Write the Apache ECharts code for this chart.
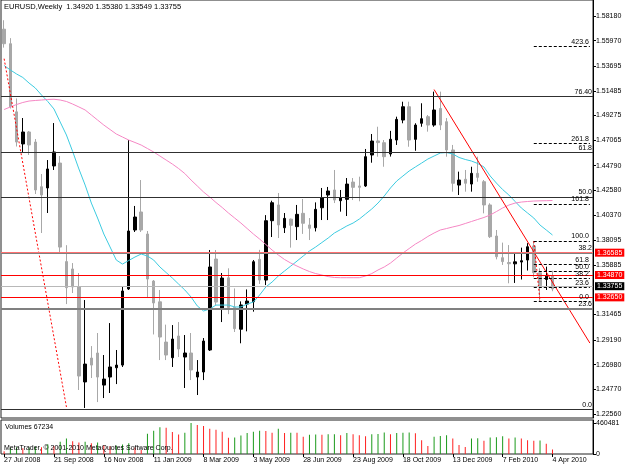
<!DOCTYPE html>
<html>
<head>
<meta charset="utf-8">
<script src="https://cdn.jsdelivr.net/npm/echarts@6/dist/echarts.min.js"></script>
<style>
  html, body { margin: 0; padding: 0; background: #fff; }
  #chart { width: 625px; height: 469px; }
</style>
</head>
<body>
<div id="chart"></div>
<script>
// weekly bars, 27 Jul 2008 .. 4 Apr 2010, plus empty space to the right
const barCount = 95;
const dateLabels = ["27 Jul 2008", "21 Sep 2008", "16 Nov 2008", "11 Jan 2009", "8 Mar 2009", "3 May 2009",
  "28 Jun 2009", "23 Aug 2009", "18 Oct 2009", "13 Dec 2009", "7 Feb 2010", "4 Apr 2010"];

const opens = [1.5700, 1.5570, 1.4960, 1.4673, 1.4780, 1.4690, 1.4290, 1.4279, 1.4476, 1.4502,
  1.3620, 1.3554, 1.3393, 1.2543, 1.2757, 1.2802, 1.2515, 1.2587, 1.2670, 1.2694,
  1.3375, 1.3903, 1.4064, 1.3867, 1.3446, 1.3260, 1.2900, 1.2760, 1.2954, 1.2766,
  1.2802, 1.2587, 1.2632, 1.2829, 1.3643, 1.3205, 1.3475, 1.3210, 1.3015, 1.3240,
  1.3261, 1.3640, 1.3455, 1.3986, 1.4127, 1.3923, 1.4000, 1.3933, 1.4052, 1.3948,
  1.3923, 1.4102, 1.4216, 1.4261, 1.4165, 1.4177, 1.4332, 1.4297, 1.4297, 1.4574,
  1.4700, 1.4684, 1.4583, 1.4708, 1.4887, 1.5006, 1.4714, 1.4858, 1.4917, 1.4842,
  1.4990, 1.4872, 1.4619, 1.4305, 1.4357, 1.4314, 1.4410, 1.4335, 1.4127, 1.3849,
  1.3655, 1.3612, 1.3600, 1.3616, 1.3634, 1.3760, 1.3520, 1.3460, 1.34920];
const highs = [1.5780, 1.5620, 1.5080, 1.4905, 1.4789, 1.4717, 1.4404, 1.4529, 1.4860, 1.4565,
  1.3767, 1.3607, 1.3518, 1.3276, 1.2864, 1.2981, 1.2784, 1.3070, 1.2829, 1.3393,
  1.4708, 1.4118, 1.4350, 1.3894, 1.3455, 1.3366, 1.3056, 1.3052, 1.3079, 1.2963,
  1.2981, 1.2739, 1.2936, 1.3724, 1.3724, 1.3518, 1.3560, 1.3380, 1.3264, 1.3371,
  1.3634, 1.3725, 1.4036, 1.4165, 1.4234, 1.4055, 1.4005, 1.4127, 1.4180, 1.4010,
  1.4150, 1.4279, 1.4288, 1.4440, 1.4261, 1.4368, 1.4368, 1.4380, 1.4628, 1.4762,
  1.4827, 1.4708, 1.4790, 1.4917, 1.5051, 1.5051, 1.4858, 1.5037, 1.4932, 1.5141,
  1.5141, 1.4905, 1.4664, 1.4425, 1.4440, 1.4469, 1.4559, 1.4350, 1.4142, 1.3903,
  1.3790, 1.3768, 1.3697, 1.3745, 1.3785, 1.3805, 1.3560, 1.3575, 1.35380];
const lows = [1.5535, 1.4990, 1.4650, 1.4592, 1.4574, 1.4225, 1.3876, 1.4055, 1.4440, 1.3688,
  1.3240, 1.3339, 1.2471, 1.2310, 1.2578, 1.2363, 1.2399, 1.2444, 1.2524, 1.2677,
  1.3366, 1.3885, 1.3885, 1.3294, 1.2968, 1.2739, 1.2739, 1.2677, 1.2766, 1.2489,
  1.2560, 1.2426, 1.2560, 1.2820, 1.3231, 1.3079, 1.3150, 1.2990, 1.2889, 1.2996,
  1.3172, 1.3420, 1.3410, 1.3840, 1.3831, 1.3876, 1.3745, 1.3813, 1.3868, 1.3813,
  1.3890, 1.3992, 1.3992, 1.4144, 1.4067, 1.4028, 1.4171, 1.4160, 1.4288, 1.4505,
  1.4559, 1.4469, 1.4560, 1.4664, 1.4858, 1.4648, 1.4612, 1.4827, 1.4783, 1.4827,
  1.4797, 1.4559, 1.4246, 1.4216, 1.4246, 1.4246, 1.4335, 1.4052, 1.3831, 1.3640,
  1.3590, 1.3426, 1.3429, 1.3460, 1.3540, 1.3480, 1.3267, 1.3366, 1.33549];
const closes = [1.5570, 1.5005, 1.4690, 1.4780, 1.4664, 1.4261, 1.4216, 1.4449, 1.4601, 1.3750,
  1.3387, 1.3393, 1.2596, 1.2703, 1.2694, 1.2587, 1.2569, 1.2677, 1.2694, 1.3357,
  1.3894, 1.4019, 1.3903, 1.3464, 1.3250, 1.2945, 1.2784, 1.2927, 1.2838, 1.2802,
  1.2650, 1.2632, 1.2909, 1.3572, 1.3258, 1.3473, 1.3210, 1.3020, 1.3232, 1.3267,
  1.3619, 1.3455, 1.3986, 1.4147, 1.3948, 1.4007, 1.3945, 1.4043, 1.3963, 1.3918,
  1.4088, 1.4189, 1.4252, 1.4171, 1.4192, 1.4314, 1.4285, 1.4285, 1.4559, 1.4699,
  1.4685, 1.4559, 1.4715, 1.4893, 1.5006, 1.4708, 1.4842, 1.4899, 1.4842, 1.4977,
  1.4842, 1.4619, 1.4321, 1.4350, 1.4321, 1.4410, 1.4374, 1.4127, 1.3843, 1.3664,
  1.3620, 1.3601, 1.3618, 1.3628, 1.3753, 1.3520, 1.3405, 1.3490, 1.33755];

const volumes = [39000, 90000, 100000, 85000, 95000, 110000, 102000, 144000, 120000, 183000,
  230000, 189000, 170000, 183000, 160000, 172000, 130000, 115000, 125000, 140000,
  160000, 95000, 60000, 302000, 345000, 399000, 389000, 327000, 288000, 317000,
  460481, 432000, 417000, 374000, 360000, 331000, 240000, 245000, 273000, 312000,
  331000, 345000, 341000, 317000, 374000, 312000, 317000, 315000, 255000, 285000,
  290000, 286000, 292000, 295000, 278000, 312000, 292000, 278000, 263000, 292000,
  296000, 321000, 292000, 312000, 317000, 321000, 307000, 206000, 119000, 255000,
  269000, 278000, 230000, 134000, 105000, 230000, 234000, 197000, 245000, 248000,
  263000, 230000, 245000, 230000, 206000, 197000, 200000, 154000, 67234];

// moving averages (aqua = fast, pink = slow)
const maFast = [1.5375, 1.5335, 1.5299, 1.5268, 1.5218, 1.5174, 1.5111, 1.5053, 1.4986, 1.4869,
  1.4753, 1.4605, 1.4449, 1.4305, 1.4144, 1.4010, 1.3867, 1.3751, 1.3634, 1.3598,
  1.3630, 1.3661, 1.3688, 1.3670, 1.3634, 1.3572, 1.3522, 1.3473, 1.3419, 1.3366,
  1.3303, 1.3223, 1.3178, 1.3196, 1.3231, 1.3231, 1.3231, 1.3214, 1.3214, 1.3240,
  1.3258, 1.3321, 1.3393, 1.3437, 1.3491, 1.3536, 1.3580, 1.3625, 1.3670, 1.3715,
  1.3751, 1.3791, 1.3831, 1.3876, 1.3907, 1.3939, 1.3965, 1.4001, 1.4046, 1.4091,
  1.4144, 1.4207, 1.4279, 1.4341, 1.4386, 1.4431, 1.4467, 1.4502, 1.4538, 1.4565,
  1.4592, 1.4596, 1.4583, 1.4552, 1.4534, 1.4520, 1.4498, 1.4467, 1.4386, 1.4323,
  1.4265, 1.4216, 1.4158, 1.4100, 1.4055, 1.4010, 1.3947, 1.3903, 1.3858];
const maSlow = [1.4981, 1.5004, 1.5026, 1.5044, 1.5057, 1.5062, 1.5066, 1.5071, 1.5073, 1.5066,
  1.5053, 1.5030, 1.5004, 1.4977, 1.4932, 1.4887, 1.4842, 1.4802, 1.4762, 1.4735,
  1.4708, 1.4686, 1.4663, 1.4632, 1.4601, 1.4565, 1.4529, 1.4493, 1.4453, 1.4408,
  1.4350, 1.4297, 1.4243, 1.4198, 1.4149, 1.4104, 1.4055, 1.4010, 1.3965, 1.3916,
  1.3867, 1.3822, 1.3773, 1.3724, 1.3679, 1.3639, 1.3607, 1.3580, 1.3554, 1.3531,
  1.3513, 1.3500, 1.3486, 1.3478, 1.3476, 1.3476, 1.3476, 1.3476, 1.3491, 1.3513,
  1.3545, 1.3572, 1.3607, 1.3652, 1.3697, 1.3737, 1.3777, 1.3809, 1.3845, 1.3876,
  1.3903, 1.3916, 1.3930, 1.3943, 1.3961, 1.3979, 1.3997, 1.4015, 1.4037, 1.4068,
  1.4100, 1.4126, 1.4144, 1.4153, 1.4158, 1.4162, 1.4164, 1.4165, 1.4167];

const priceTicks = [1.58180, 1.55970, 1.53695, 1.51485, 1.49275, 1.47065, 1.44790, 1.42580, 1.40370,
  1.38095, 1.35885, 1.31465, 1.29190, 1.26980, 1.24770, 1.22560];
const volumeTicks = [0, 460481];

const bigFibLevels = [1.2319, 1.3193, 1.3734, 1.4171, 1.4607, 1.5148];
const bigFibNames = ["0.0", "23.6", "38.2", "50.0", "61.8", "76.40"];
const bigFibWidths = [1, 2, 2, 1, 1, 1];
const smallFibLevels = [1.3265, 1.3392, 1.3471, 1.3535, 1.3598, 1.3804, 1.4137, 1.4676, 1.5548];
const smallFibNames = ["0.0", "23.6", "38.2", "50.0", "61.8", "100.0", "161.8", "261.8", "423.6"];
const redLevels = [1.36585, 1.34870, 1.32650];
const redColors = ["#ff7070", "#ff0000", "#ff0000"];
const bidPrice = 1.33755;

const bigFibTrend = [[0, 1.5436], [10, 1.2319]];
const smallFibTrend = [[85, 1.3804], [86, 1.3265]];
const downTrend = [[69, 1.5160], [94, 1.2891]];

const font = "Liberation Sans";
const categories = Array.from({ length: barCount }, (_, i) => i);

const chart = echarts.init(document.getElementById("chart"));

const markData = [];
bigFibLevels.forEach((v, i) => {
  markData.push({
    yAxis: v,
    lineStyle: { color: bigFibWidths[i] > 1 ? "#808080" : "#303030", width: bigFibWidths[i], type: "solid" },
    label: { show: true, position: "insideEndTop", formatter: bigFibNames[i], distance: 1 },
  });
});
smallFibLevels.forEach((v, i) => {
  markData.push([
    { coord: [85, v], lineStyle: { color: "#000", width: 1, type: [3, 2] },
      label: { show: true, position: "insideEndTop", formatter: smallFibNames[i], distance: 1 } },
    { coord: [94, v] },
  ]);
});
redLevels.forEach((v, i) => {
  markData.push({
    yAxis: v,
    lineStyle: { color: redColors[i], width: 1, type: "solid" },
    label: { show: true, position: "end", formatter: v.toFixed(5), color: "#fff",
      backgroundColor: "#ff0000", padding: [1, 2, 0, 2], distance: 2 },
  });
});
markData.push({
  yAxis: bidPrice,
  lineStyle: { color: "#b8b8b8", width: 1, type: "solid" },
  label: { show: true, position: "end", formatter: bidPrice.toFixed(5), color: "#fff",
    backgroundColor: "#000", padding: [1, 2, 0, 2], distance: 2 },
});

const option = {
  animation: false,
  textStyle: { fontFamily: font, fontSize: 7 },
  grid: [
    { left: 1, right: 32, top: 0, height: 418, show: true, borderColor: "#202020", borderWidth: 1 },
    { left: 1, right: 32, top: 420, height: 34, show: true, borderColor: "#202020", borderWidth: 1 },
  ],
  xAxis: [
    { type: "category", gridIndex: 0, data: categories, boundaryGap: true,
      axisLine: { show: false }, axisTick: { show: false }, axisLabel: { show: false }, splitLine: { show: false } },
    { type: "category", gridIndex: 1, data: categories, boundaryGap: true,
      axisLine: { show: false },
      axisTick: { show: true, interval: 7, alignWithLabel: true, length: 3, lineStyle: { color: "#000" } },
      axisLabel: { interval: 7, align: "left", margin: 3, color: "#000", fontSize: 7, fontFamily: font,
        formatter: (v, idx) => dateLabels[idx / 8] || "" },
      splitLine: { show: false } },
  ],
  yAxis: [
    { type: "value", gridIndex: 0, position: "right", min: 1.22204, max: 1.59612,
      axisLine: { show: true, lineStyle: { color: "#000" } },
      axisTick: { show: true, length: 3, customValues: priceTicks, lineStyle: { color: "#000" } },
      axisLabel: { customValues: priceTicks, margin: 3, color: "#000", fontSize: 7, fontFamily: font,
        formatter: (v) => v.toFixed(5) },
      splitLine: { show: false } },
    { type: "value", gridIndex: 1, position: "right", min: 0, max: 505000,
      axisLine: { show: true, lineStyle: { color: "#000" } },
      axisTick: { show: true, length: 3, customValues: volumeTicks, lineStyle: { color: "#000" } },
      axisLabel: { customValues: volumeTicks, margin: 3, color: "#000", fontSize: 7, fontFamily: font,
        formatter: (v) => String(v) },
      splitLine: { show: false } },
  ],
  graphic: [
    { type: "text", left: 4, top: 3, style: { text: "EURUSD,Weekly  1.34920 1.35380 1.33549 1.33755",
      font: "7.5px " + font, fill: "#000" } },
    { type: "text", left: 5, top: 424, style: { text: "Volumes 67234", font: "7px " + font, fill: "#000" } },
    { type: "text", left: 4, top: 445, style: { text: "MetaTrader, \u00a9 2001-2010 MetaQuotes Software Corp.",
      font: "7px " + font, fill: "#000" }, z: 10 },
  ],
  series: [
    {
      type: "candlestick", xAxisIndex: 0, yAxisIndex: 0, barWidth: 3,
      data: opens.map((o, i) => [o, closes[i], lows[i], highs[i]]),
      itemStyle: { color: "#000", color0: "#a8a8a8", borderColor: "#000", borderColor0: "#a8a8a8", borderWidth: 1 },
      markLine: {
        silent: true, symbol: ["none", "none"], animation: false,
        label: { color: "#000", fontSize: 7, fontFamily: font },
        data: markData,
      },
    },
    { type: "line", xAxisIndex: 0, yAxisIndex: 0, data: maFast, showSymbol: false, symbol: "none",
      lineStyle: { color: "#3ccbe0", width: 1 } },
    { type: "line", xAxisIndex: 0, yAxisIndex: 0, data: maSlow, showSymbol: false, symbol: "none",
      lineStyle: { color: "#f587c4", width: 1 } },
    { type: "line", xAxisIndex: 0, yAxisIndex: 0, data: bigFibTrend, showSymbol: false, symbol: "none",
      lineStyle: { color: "#ff0000", width: 1, type: [2, 2] } },
    { type: "line", xAxisIndex: 0, yAxisIndex: 0, data: smallFibTrend, showSymbol: false, symbol: "none",
      lineStyle: { color: "#ff0000", width: 1, type: [2, 2] } },
    { type: "line", xAxisIndex: 0, yAxisIndex: 0, data: downTrend, showSymbol: false, symbol: "none",
      lineStyle: { color: "#ff0000", width: 1 } },
    {
      type: "bar", xAxisIndex: 1, yAxisIndex: 1, barWidth: 1,
      data: volumes.map((v, i) => ({
        value: v,
        itemStyle: { color: i > 0 && v > volumes[i - 1] ? "#1a9a1a" : "#ff2020" },
      })),
    },
  ],
};

chart.setOption(option);
</script>
</body>
</html>
